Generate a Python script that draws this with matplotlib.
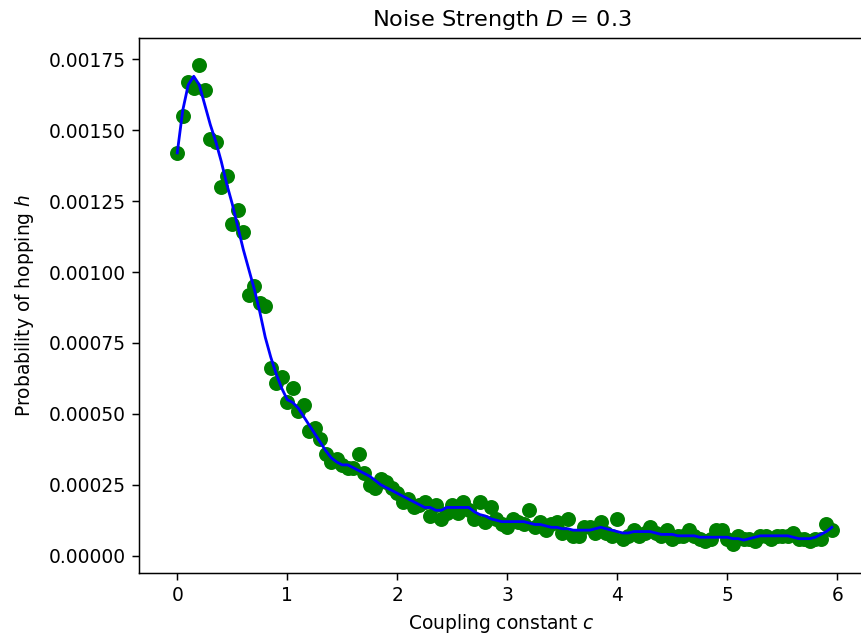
import numpy as np
import matplotlib.pyplot as plt

# coupling constant grid
c = np.round(np.arange(120) * 0.05, 2)

# hopping probability per coupling value (units of 1e-5)
h_points = [
    142, 155, 167, 165, 173, 164, 147, 146, 130, 134,
    117, 122, 114, 92, 95, 89, 88, 66, 61, 63,
    54, 59, 51, 53, 44, 45, 41, 36, 33, 34,
    32, 31, 31, 36, 29, 25, 24, 27, 26, 24,
    22, 19, 20, 17, 18, 19, 14, 18, 13, 15,
    18, 15, 19, 16, 13, 19, 12, 17, 13, 11,
    10, 13, 12, 11, 16, 10, 12, 9, 11, 12,
    8, 13, 7, 7, 10, 10, 8, 12, 8, 7,
    13, 6, 7, 9, 7, 8, 10, 8, 7, 9,
    6, 7, 7, 9, 7, 6, 5, 6, 9, 9,
    6, 4, 7, 6, 6, 5, 7, 7, 6, 7,
    7, 7, 8, 6, 6, 5, 6, 6, 11, 9,
]

# smoothed trend (units of 1e-5)
h_smooth = [
    142, 157, 166, 169, 166, 159, 152, 146, 139, 131,
    124, 116, 108, 101, 94, 86, 77, 70, 64, 59,
    55, 54, 52, 49, 46, 43, 40, 37, 34.5, 33,
    32, 32, 31, 30, 29, 28, 26.5, 25, 24, 23,
    22, 21, 20, 19, 18, 17, 17, 16, 16, 17,
    17, 17, 17, 17, 15.5, 14.5, 14, 13, 12.5, 12,
    12, 12, 12, 12, 11.5, 11, 11, 10.5, 10, 10,
    9.5, 9.5, 9, 9, 9, 9, 9.5, 10, 9.5, 9,
    8.5, 8, 8, 8.5, 8.5, 8.5, 8.5, 8, 7.5, 7.5,
    7.5, 7, 7, 7, 7, 6.5, 6.5, 6.5, 6.5, 6.5,
    6.5, 6, 6, 5.5, 6, 6.5, 7, 7, 7, 7,
    7, 7, 6.5, 6, 6, 6, 6.5, 7.5, 8.5, 10,
]

h_points = np.array(h_points) * 1e-5
h_smooth = np.array(h_smooth) * 1e-5

dpi = 134.5
fig = plt.figure(figsize=(861 / dpi, 640 / dpi), dpi=dpi)
ax = fig.add_axes([0.1614, 0.1052, 0.843, 0.8359])

ax.plot(c, h_points, 'o', color='green', markersize=7)
ax.plot(c, h_smooth, '-', color='blue', linewidth=1.5)

ax.set_xlim(-0.348, 6.25)
ax.set_ylim(-0.0000599, 0.001826)
ax.set_yticks([0, 0.00025, 0.0005, 0.00075, 0.001, 0.00125, 0.0015, 0.00175])
ax.set_yticklabels(['0.00000', '0.00025', '0.00050', '0.00075', '0.00100',
                    '0.00125', '0.00150', '0.00175'])

ax.set_title('Noise Strength $D$ = 0.3')
ax.set_xlabel('Coupling constant $c$')
ax.set_ylabel('Probability of hopping $h$', labelpad=7)

fig.savefig('out.png', dpi=dpi)
